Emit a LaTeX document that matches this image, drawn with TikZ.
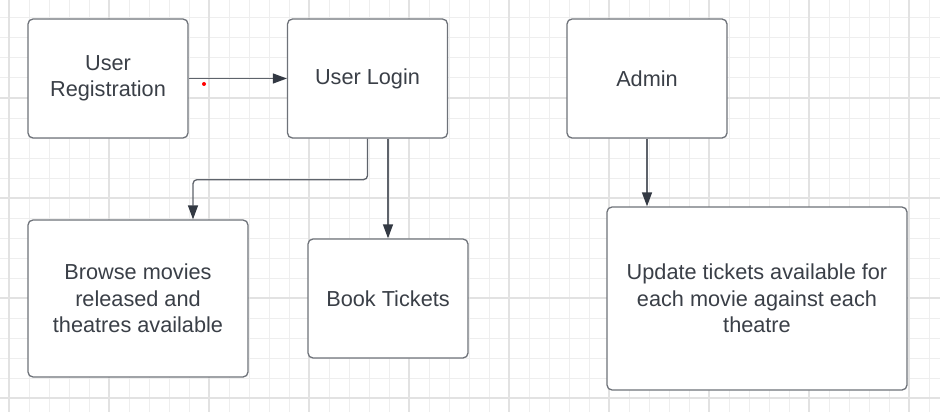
\documentclass[tikz,border=0pt]{standalone}
\usepackage{fontspec}
\setmainfont{Liberation Sans}
\usetikzlibrary{arrows.meta}
\definecolor{gridminor}{HTML}{EEEEEE}
\definecolor{gridmajor}{HTML}{E2E2E2}
\definecolor{boxline}{HTML}{6E7279}
\definecolor{txt}{HTML}{3A3F47}
\definecolor{arrline}{HTML}{5E636B}
\definecolor{arrtip}{HTML}{333943}
\begin{document}
\begin{tikzpicture}[x=1pt,y=-1pt,>={Triangle[length=14pt,width=10pt,color=arrtip]},
	box/.style={draw=boxline,line width=1.3pt,rounded corners=5pt,fill=white,text=txt,align=center,
		font=\fontsize{21.7}{26.5}\selectfont,inner sep=0pt},
	arr/.style={->,draw=arrline,line width=1.3pt}]
	\useasboundingbox (0,0) rectangle (940,412);
	\fill[white] (0,0) rectangle (940,412);
	\foreach \gx in {9,29,...,929} \draw[gridminor,line width=1pt] (\gx,0)--(\gx,412);
	\foreach \gy in {18,38,...,408} \draw[gridminor,line width=1pt] (0,\gy)--(940,\gy);
	\foreach \gx in {9,109,...,909} \draw[gridmajor,line width=1.2pt] (\gx,0)--(\gx,412);
	\foreach \gy in {98,198,298,398} \draw[gridmajor,line width=1.2pt] (0,\gy)--(940,\gy);
	\node[box,minimum width=160pt,minimum height=119pt] (reg) at (108,78.5) {User\\Registration};
	\node[box,minimum width=160pt,minimum height=119pt] (login) at (367.5,78.5) {User Login};
	\node[box,minimum width=160pt,minimum height=119pt] (admin) at (647,78.5) {Admin};
	\node[box,minimum width=220pt,minimum height=157pt] (browse) at (138,298.5) {Browse movies\\released and\\theatres available};
	\node[box,minimum width=160pt,minimum height=119pt] (book) at (388,298.5) {Book Tickets};
	\node[box,minimum width=300pt,minimum height=183pt] (update) at (757,298.5) {Update tickets available for\\each movie against each\\theatre};
	\draw[arr] (reg.east) -- (login.west);
	\draw[arr,rounded corners=4pt] (login.south) -- ++(0,41) -| ([xshift=55pt]browse.north);
	\draw[arr] (book.north |- login.south) -- (book.north);
	\draw[arr] (admin.south) -- (admin.south |- update.north);
	\fill[red] (204,84) circle (2pt);
\end{tikzpicture}
\end{document}
